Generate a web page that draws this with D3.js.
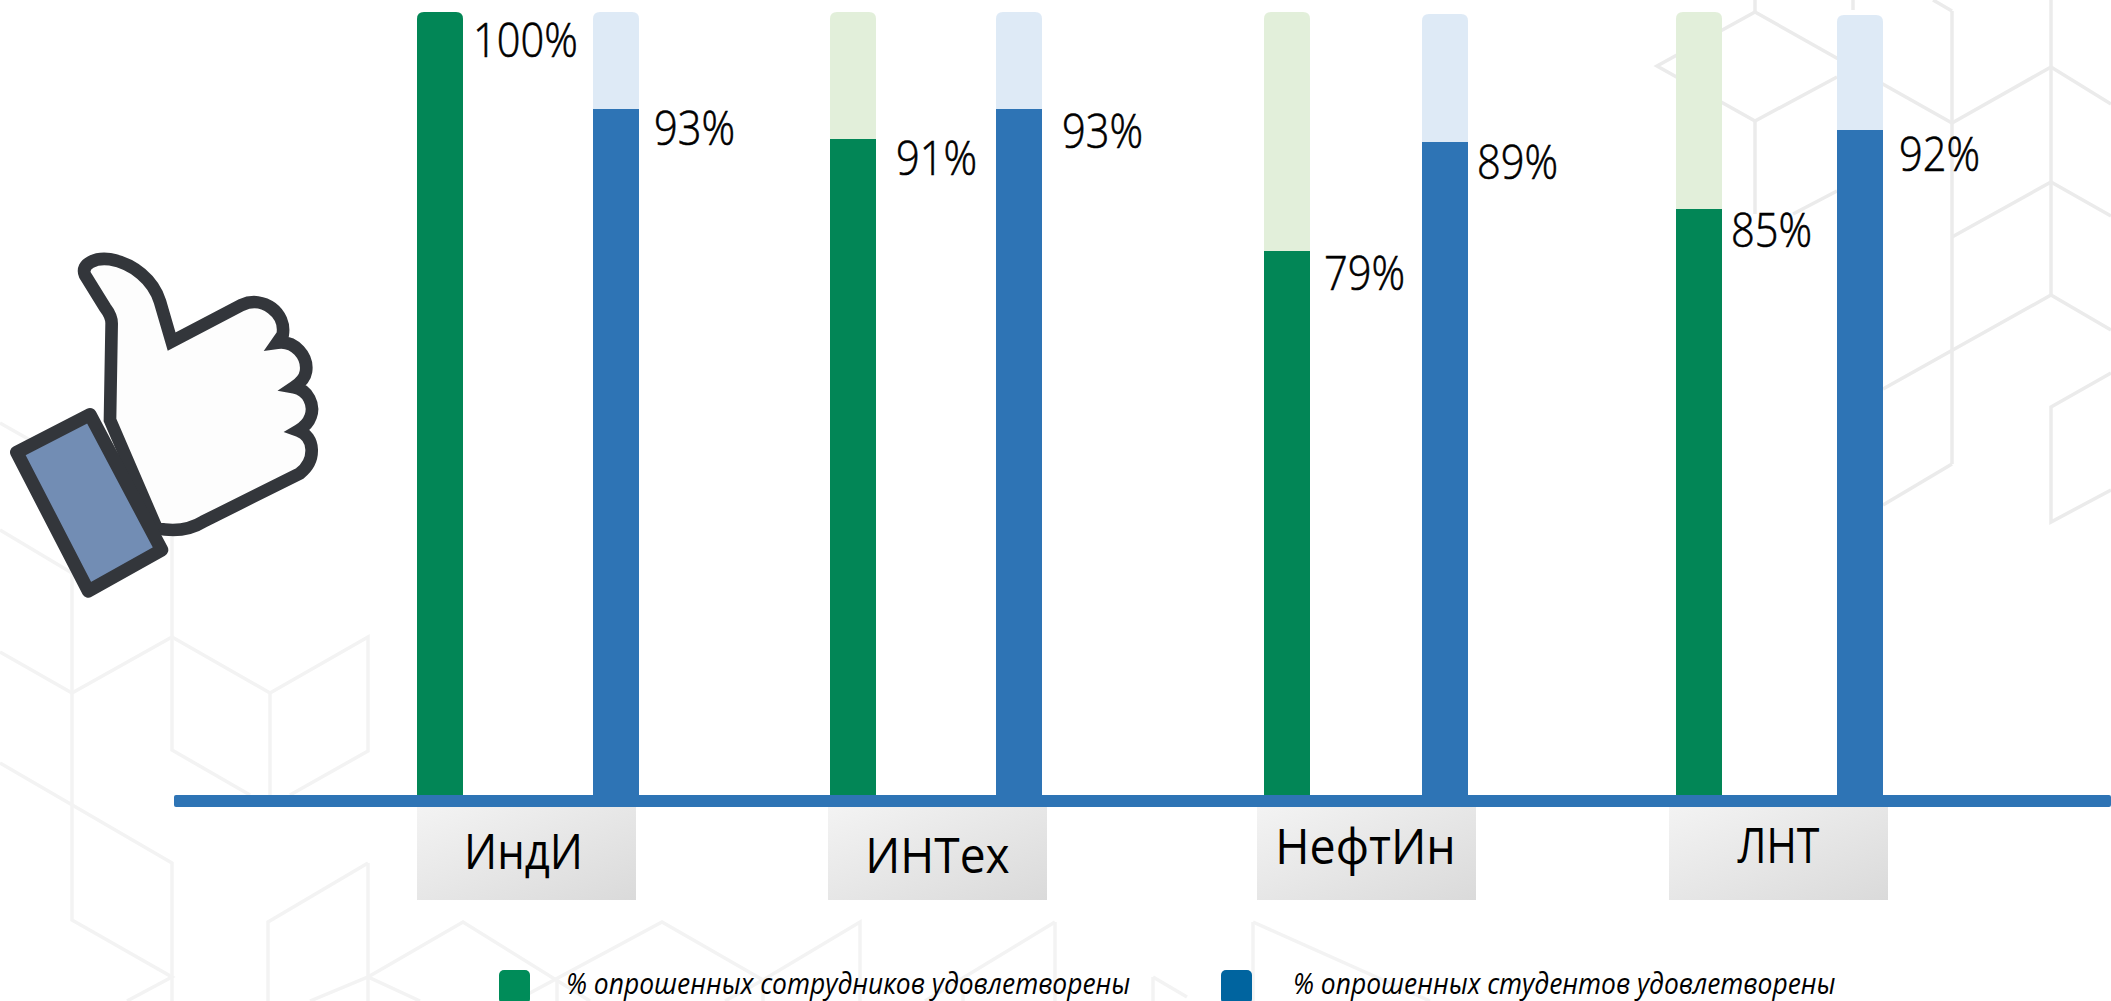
<!DOCTYPE html>
<html>
<head>
<meta charset="utf-8">
<script src="https://cdn.jsdelivr.net/npm/d3@7"></script>
<style>
  html, body { margin: 0; padding: 0; background: #fff; overflow: hidden; }
  svg { display: block; }
  text { font-family: "Open Sans", sans-serif; fill: #000; }
</style>
</head>
<body>
<svg id="chart"></svg>
<script>
const categories = ["ИндИ", "ИНТех", "НефтИн", "ЛНТ"];
const staffValues = [100, 91, 79, 85];
const studentValues = [93, 93, 89, 92];
const legendLabels = ["% опрошенных сотрудников удовлетворены", "% опрошенных студентов удовлетворены"];

const w = 2111;
const h = 1001;
const barWidth = 46;
const baseY = 795;

const svg = d3.select("#chart").attr("width", w).attr("height", h);

// the source infographic is not to scale, so y is piecewise: each printed value -> height in the picture
const yScale = d3.scaleLinear()
    .domain([0, 79, 85, 89, 91, 92, 93, 100])
    .range([baseY, 251, 209, 142, 139, 130, 109, 12]);

const xStaff = d3.scaleOrdinal(categories, [417, 830, 1264, 1676]);
const xStudent = d3.scaleOrdinal(categories, [593, 996, 1422, 1837]);
const xBox = d3.scaleOrdinal(categories, [417, 828, 1257, 1669]);

// background cubes: the right hand ones are a bit stronger than the rest
const bgRight = [
    [[2051, 0], [2051, 295]], [[1952, 11], [1952, 464]], [[1933, 0], [1952, 11]], [[1853, 0], [1853, 10]],
    [[1755, 0], [1755, 12]], [[1755, 121], [1755, 214]],
    [[2111, 104], [2051, 67], [1952, 123], [1755, 12], [1657, 66], [1755, 121], [1837, 77]],
    [[2111, 216], [2051, 182], [1952, 237]], [[1793, 214], [1837, 191]],
    [[2111, 330], [2051, 295], [1883, 389]], [[1952, 464], [1883, 505]],
    [[2111, 373], [2051, 407], [2051, 522], [2111, 490]]
];
const bgLeft = [
    [[72, 537], [72, 920], [172, 977], [127, 1001]], [[172, 537], [172, 750], [250, 795]],
    [[0, 652], [72, 693], [172, 637], [270, 693], [368, 637], [368, 751], [290, 795]],
    [[270, 693], [270, 795]], [[0, 763], [172, 863], [172, 1001]], [[0, 530], [72, 573]], [[0, 423], [30, 440]],
    [[368, 863], [268, 922], [268, 1001]], [[368, 863], [368, 1001]], [[310, 1001], [368, 977], [420, 1001]],
    [[368, 977], [463, 922], [590, 1001]], [[515, 1001], [662, 922], [763, 980], [860, 922], [860, 1001]],
    [[557, 977], [557, 1001]], [[763, 980], [763, 1001]], [[763, 980], [725, 1001]],
    [[1055, 922], [925, 1001]], [[1055, 922], [1055, 1001]], [[963, 977], [963, 1001]],
    [[1153, 977], [1187, 997]], [[1153, 977], [1153, 1001]], [[1253, 922], [1253, 1001]], [[1253, 922], [1430, 1001]]
];
const line = d3.line();
[[bgRight, "#ebebeb"], [bgLeft, "#f3f3f3"]].forEach(([lines, col]) => {
    svg.append("g")
        .selectAll("path")
        .data(lines)
        .enter()
        .append("path")
        .attr("d", d => line(d))
        .attr("fill", "none")
        .attr("stroke", col)
        .attr("stroke-width", 3.5);
});

// bar with only the top corners rounded
function barPath(x, top, r) {
    return `M${x},${baseY}V${top + r}Q${x},${top} ${x + r},${top}H${x + barWidth - r}Q${x + barWidth},${top} ${x + barWidth},${top + r}V${baseY}Z`;
}

const groups = [
    { values: staffValues, x: xStaff, dark: "#028656", pale: "#e2efda", trackDrop: [0, 0, 0, 0], dx: [12, 22, 16, 11], dy: [45, 36, 39, 38] },
    { values: studentValues, x: xStudent, dark: "#2e74b5", pale: "#deeaf6", trackDrop: [0, 0, 2, 3], dx: [17, 22, 11, 18], dy: [36, 39, 37, 41] }
];

groups.forEach(s => {
    const g = svg.append("g");
    g.selectAll("path.track")
        .data(categories)
        .enter()
        .append("path")
        .attr("class", "track")
        .attr("d", (c, i) => barPath(s.x(c), yScale(100) + s.trackDrop[i], 7))
        .attr("fill", s.pale);
    g.selectAll("path.bar")
        .data(categories)
        .enter()
        .append("path")
        .attr("class", "bar")
        .attr("d", (c, i) => barPath(s.x(c), yScale(s.values[i]), s.values[i] === 100 ? 7 : 0))
        .attr("fill", s.dark);
    g.selectAll("text")
        .data(categories)
        .enter()
        .append("text")
        .attr("transform", (c, i) => `translate(${s.x(c) + barWidth + s.dx[i] - 2},${yScale(s.values[i]) + s.dy[i]}) scale(0.885,1)`)
        .attr("font-size", 47)
        .attr("font-weight", 300)
        .attr("stroke", "#000")
        .attr("stroke-width", 0.6)
        .text((c, i) => s.values[i] + "%");
});

// axis line and category plates
svg.append("rect")
    .attr("x", 174).attr("y", baseY)
    .attr("width", w - 174).attr("height", 12)
    .attr("rx", 2)
    .attr("fill", "#2e74b5");

const grad = svg.append("defs").append("linearGradient")
    .attr("id", "plate")
    .attr("x1", "0").attr("y1", "0").attr("x2", "1").attr("y2", "1");
grad.append("stop").attr("offset", "0").attr("stop-color", "#f3f3f3");
grad.append("stop").attr("offset", "1").attr("stop-color", "#dadada");

const boxWidth = 219;
const labelBase = [869, 873, 864, 863];
const labelNudge = [-3, 0, -1, 0];
const labelStretch = [0.89, 0.94, 0.95, 0.84];

const plates = svg.append("g").selectAll("g")
    .data(categories)
    .enter()
    .append("g");
plates.append("rect")
    .attr("x", d => xBox(d))
    .attr("y", 807)
    .attr("width", boxWidth)
    .attr("height", 93)
    .attr("fill", "url(#plate)");
plates.append("text")
    .attr("transform", (d, i) => `translate(${xBox(d) + boxWidth / 2 + labelNudge[i]},${labelBase[i]}) scale(${labelStretch[i]},1)`)
    .attr("text-anchor", "middle")
    .attr("font-size", 49)
    .text(d => d);

// legend
const legendColors = ["#008c59", "#00649f"];
const legendBoxX = [499, 1221];
const legendTextX = [566, 1293];
const legend = svg.append("g").selectAll("g")
    .data(legendLabels)
    .enter()
    .append("g");
legend.append("rect")
    .attr("x", (d, i) => legendBoxX[i])
    .attr("y", 970)
    .attr("width", 31)
    .attr("height", 34)
    .attr("rx", 5)
    .attr("fill", (d, i) => legendColors[i]);
legend.append("text")
    .attr("transform", (d, i) => `translate(${legendTextX[i]},993.5) scale(0.88,1)`)
    .attr("font-size", 30)
    .attr("font-style", "italic")
    .text(d => d);

// thumbs-up icon
const thumb = svg.append("g").attr("transform", "translate(0,220) scale(0.3333)");
thumb.append("path")
    .attr("d", "M255,165 C240,130 290,112 330,118 C400,130 460,180 480,245 L515,365 L725,255 C790,225 860,280 848,345 L832,368 C885,360 925,410 918,455 C915,475 900,490 882,502 C925,510 945,555 932,590 C925,610 915,620 895,632 C945,650 950,720 900,760 L610,905 C570,930 520,935 470,925 L330,600 L335,310 C335,290 325,275 315,262 Z")
    .attr("fill", "#fdfdfd")
    .attr("stroke", "#33363b")
    .attr("stroke-width", 38)
    .attr("stroke-linejoin", "miter");
thumb.append("path")
    .attr("d", "M50,697 L270,584 L485,990 L265,1113 Z")
    .attr("fill", "#728db4")
    .attr("stroke", "#33363b")
    .attr("stroke-width", 40)
    .attr("stroke-linejoin", "round");
</script>
</body>
</html>
